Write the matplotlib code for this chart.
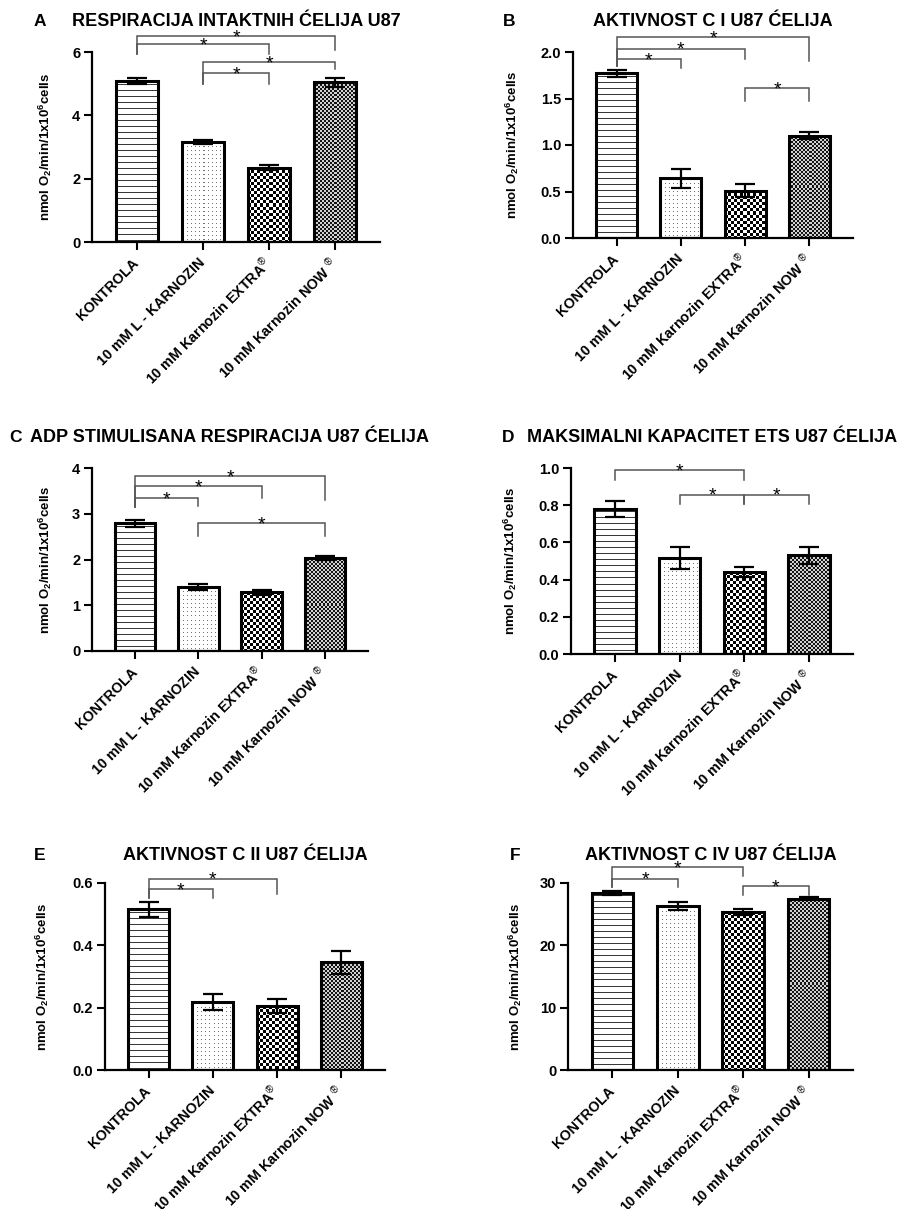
import numpy as np
import matplotlib
matplotlib.use("Agg")
import matplotlib.pyplot as plt

plt.rcParams["font.family"] = ["Liberation Sans", "DejaVu Sans"]
plt.rcParams["mathtext.fontset"] = "custom"
plt.rcParams["mathtext.rm"] = "Liberation Sans"
plt.rcParams["mathtext.bf"] = "Liberation Sans:bold"
plt.rcParams["mathtext.it"] = "Liberation Sans:italic"

# ---------------------------------------------------------------- data
groups = [
    "KONTROLA",
    "10 mM L - KARNOZIN",
    "10 mM Karnozin EXTRA$^{\u00ae}$",
    "10 mM Karnozin NOW $^{\u00ae}$",
]
ylabel = r"nmol O$_\mathbf{2}$/min/1x10$^\mathbf{6}$cells"

a_title = "RESPIRACIJA INTAKTNIH ĆELIJA U87"
a_mean = [5.08, 3.16, 2.34, 5.04]
a_err = [0.10, 0.07, 0.08, 0.14]
a_ticks = [0, 2, 4, 6]
a_tick_labels = ["0", "2", "4", "6"]
# (bar i, bar j, bracket height, left foot, right foot)
a_brackets = [(0, 2, 6.26, 5.95, 5.95), (0, 3, 6.49, 5.95, 6.05),
              (1, 2, 5.34, 5.00, 5.00), (1, 3, 5.68, 5.00, 5.47)]

b_title = "AKTIVNOST C I U87 ĆELIJA"
b_mean = [1.77, 0.64, 0.51, 1.10]
b_err = [0.035, 0.10, 0.07, 0.035]
b_ticks = [0, 0.5, 1.0, 1.5, 2.0]
b_tick_labels = ["0.0", "0.5", "1.0", "1.5", "2.0"]
b_brackets = [(0, 1, 1.925, 1.846, 1.83), (0, 2, 2.036, 1.846, 1.925),
              (0, 3, 2.158, 1.846, 1.907), (2, 3, 1.613, 1.47, 1.47)]

c_title = "ADP STIMULISANA RESPIRACIJA U87 ĆELIJA"
c_mean = [2.79, 1.40, 1.28, 2.04]
c_err = [0.08, 0.07, 0.05, 0.04]
c_ticks = [0, 1, 2, 3, 4]
c_tick_labels = ["0", "1", "2", "3", "4"]
c_brackets = [(0, 1, 3.35, 3.15, 3.16), (0, 2, 3.60, 3.15, 3.35),
              (0, 3, 3.82, 3.15, 3.31), (1, 3, 2.80, 2.51, 2.51)]

d_title = "MAKSIMALNI KAPACITET ETS U87 ĆELIJA"
d_mean = [0.78, 0.515, 0.44, 0.53]
d_err = [0.043, 0.06, 0.027, 0.045]
d_ticks = [0, 0.2, 0.4, 0.6, 0.8, 1.0]
d_tick_labels = ["0.0", "0.2", "0.4", "0.6", "0.8", "1.0"]
d_brackets = [(0, 2, 0.9875, 0.9375, 0.9375), (1, 2, 0.857, 0.805, 0.805),
              (2, 3, 0.857, 0.805, 0.805)]

e_title = "AKTIVNOST C II U87 ĆELIJA"
e_mean = [0.515, 0.218, 0.205, 0.345]
e_err = [0.024, 0.025, 0.023, 0.037]
e_ticks = [0, 0.2, 0.4, 0.6]
e_tick_labels = ["0.0", "0.2", "0.4", "0.6"]
e_brackets = [(0, 1, 0.580, 0.553, 0.553), (0, 2, 0.614, 0.553, 0.564)]

f_title = "AKTIVNOST C IV U87 ĆELIJA"
f_mean = [28.4, 26.3, 25.3, 27.5]
f_err = [0.35, 0.6, 0.5, 0.2]
f_ticks = [0, 10, 20, 30]
f_tick_labels = ["0", "10", "20", "30"]
f_brackets = [(0, 1, 30.7, 29.35, 29.35), (0, 2, 32.5, 29.35, 31.07),
              (2, 3, 29.46, 28.1, 28.1)]

# ---------------------------------------------------------------- layout
W, H = 899, 1209
fig = plt.figure(figsize=(W / 100, H / 100), dpi=100)

panels = [
    # letter, title, mean, err, ticks, labels, brackets,
    # (left px, right px, bottom px, top px), letter x, title y, ylabel x
    ("A", a_title, a_mean, a_err, a_ticks, a_tick_labels, a_brackets,
     (92, 380, 242, 52), 40, 22, 45),
    ("B", b_title, b_mean, b_err, b_ticks, b_tick_labels, b_brackets,
     (573, 853, 238, 52), 509, 22, 512),
    ("C", c_title, c_mean, c_err, c_ticks, c_tick_labels, c_brackets,
     (92, 368, 651, 468), 15, 438, 45),
    ("D", d_title, d_mean, d_err, d_ticks, d_tick_labels, d_brackets,
     (571, 853, 654, 468), 508, 438, 510),
    ("E", e_title, e_mean, e_err, e_ticks, e_tick_labels, e_brackets,
     (105, 385, 1070, 883), 40, 855, 42),
    ("F", f_title, f_mean, f_err, f_ticks, f_tick_labels, f_brackets,
     (568, 853, 1070, 883), 515, 855, 515),
]

patterns = ["lines", "dots", "checker", "fine"]


def pattern_image(kind, h, w):
    r = np.arange(h)[:, None] + np.zeros((1, w), dtype=int)
    c = np.arange(w)[None, :] + np.zeros((h, 1), dtype=int)
    img = np.ones((h, w, 3))
    if kind == "lines":
        mask = (r % 6) == 3
        img[mask] = 0.22
    elif kind == "dots":
        mask = ((r % 4) == 1) & ((c % 4) == 1)
        img[mask] = 0.45
    elif kind == "checker":
        mask = ((r // 3 + c // 3) % 2) == 0
        img[mask] = 0.0
    elif kind == "fine":
        mask = ((r // 2 + c // 2) % 2) == 0
        img[:] = 0.82
        img[mask] = 0.08
    return img


x = np.arange(4)
bar_w = 0.64
for (letter, title, mean, err, ticks, tlabels, brackets,
     (lpx, rpx, bpx, tpx), letter_x, title_y, ylab_x) in panels:
    ax = fig.add_axes([lpx / W, 1 - bpx / H, (rpx - lpx) / W, (bpx - tpx) / H])
    ax.set_autoscale_on(False)
    ax.set_xlim(-0.68, 3.68)
    ax.set_ylim(ticks[0], ticks[-1])

    base = ax.bar(x, mean, width=bar_w, color="white", edgecolor="none", zorder=2)
    for patch, kind in zip(base.patches, patterns):
        bb = patch.get_window_extent()
        w_px = max(int(round(bb.width)), 1)
        h_px = max(int(round(bb.height)), 1)
        x0 = patch.get_x()
        y0 = patch.get_y()
        im = ax.imshow(pattern_image(kind, h_px, w_px),
                       extent=(x0, x0 + patch.get_width(), y0, y0 + patch.get_height()),
                       origin="upper", aspect="auto", interpolation="nearest", zorder=2.5)
        im.set_clip_path(patch)
    ax.bar(x, mean, width=bar_w, fill=False, edgecolor="black", linewidth=2.2, zorder=3)
    ax.errorbar(x, mean, yerr=err, fmt="none", ecolor="black", elinewidth=1.6,
                capsize=7, capthick=1.6, zorder=4)

    ax.set_xlim(-0.68, 3.68)
    ax.set_ylim(ticks[0], ticks[-1])

    for i, j, hgt, lf, rf in brackets:
        ax.plot([x[i], x[i], x[j], x[j]], [lf, hgt, hgt, rf], color="#555555",
                linewidth=1.1, clip_on=False, zorder=5, solid_joinstyle="miter")
        ax.annotate("*", xy=((x[i] + x[j]) / 2, hgt), xytext=(0, -4.5),
                    textcoords="offset points", ha="center", va="baseline",
                    fontsize=14, annotation_clip=False, zorder=6)

    ax.spines["top"].set_visible(False)
    ax.spines["right"].set_visible(False)
    for s in ("left", "bottom"):
        ax.spines[s].set_linewidth(1.6)
    ax.set_yticks(ticks)
    ax.set_yticklabels(tlabels, fontsize=10.5, fontweight="bold")
    ax.set_xticks(x)
    ax.set_xticklabels(groups, rotation=45, ha="right", va="center",
                       rotation_mode="anchor", fontsize=10.3, fontweight="bold")
    ax.tick_params(axis="both", direction="out", length=5.5, width=1.5, pad=3)
    ax.tick_params(axis="x", pad=8)

    cx = (lpx + rpx) / 2
    fig.text(cx / W, 1 - title_y / H, title, ha="center", va="center",
             fontsize=13, fontweight="bold")
    fig.text(letter_x / W, 1 - title_y / H, letter, ha="center", va="center",
             fontsize=12.5, fontweight="bold")
    fig.text(ylab_x / W, 1 - ((bpx + tpx) / 2) / H, ylabel, rotation=90,
             ha="center", va="center", fontsize=9.5, fontweight="bold")

fig.savefig("out.png", dpi=100)
